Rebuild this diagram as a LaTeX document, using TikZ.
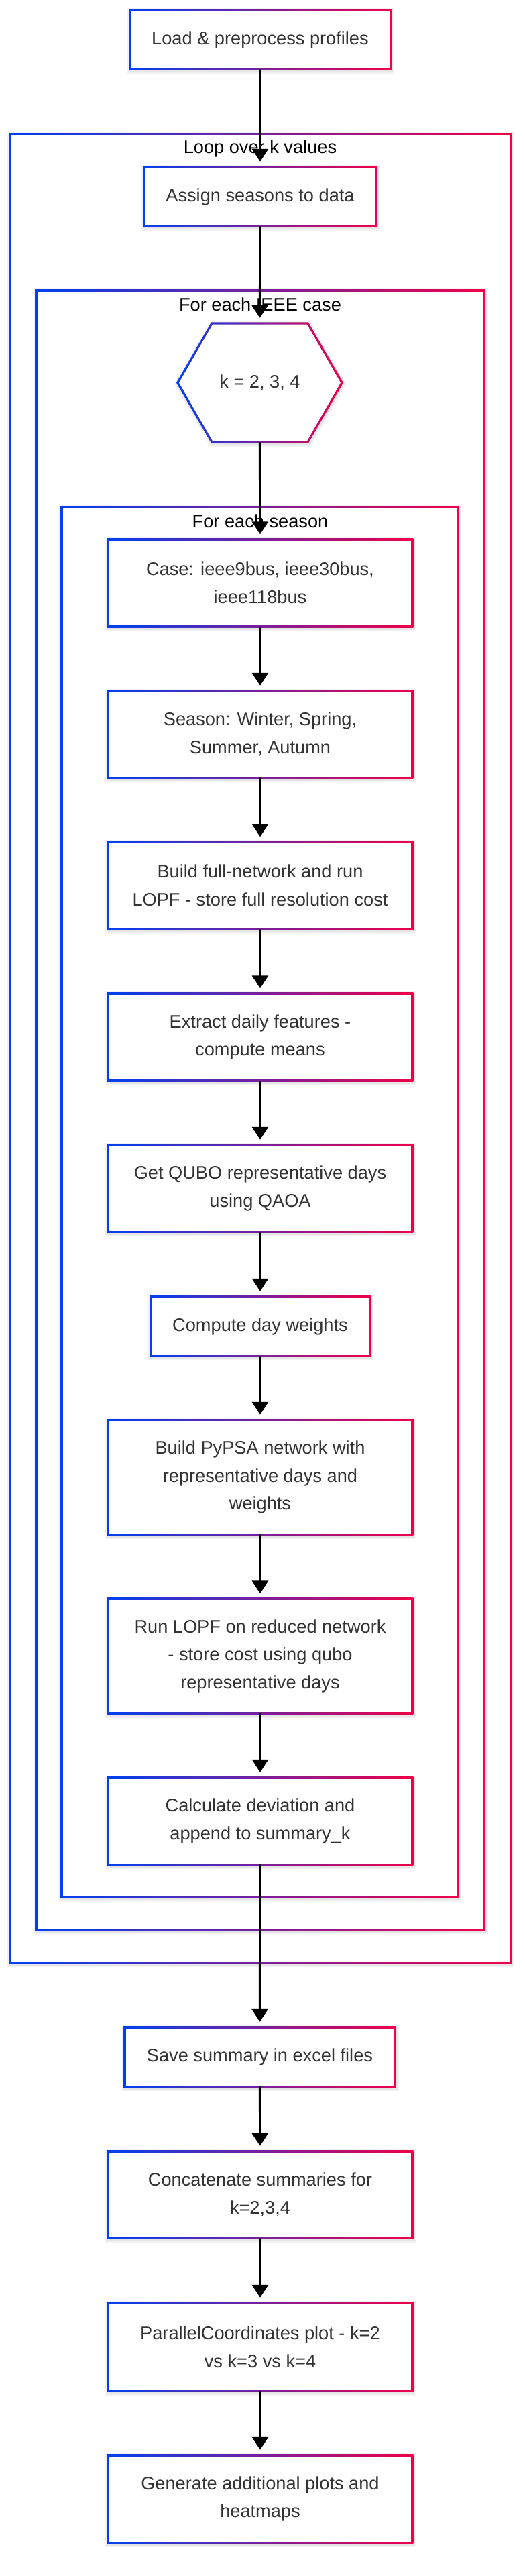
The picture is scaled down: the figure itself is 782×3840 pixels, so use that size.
\documentclass[tikz,border=0pt]{standalone}
\usepackage{fontspec}
\setmainfont{Liberation Sans}
\usetikzlibrary{arrows.meta}
\definecolor{gblue}{RGB}{0,64,240}
\definecolor{gred}{RGB}{240,0,72}
\definecolor{txtgray}{HTML}{333333}
\pgfdeclarelayer{frames}
\pgfsetlayers{frames,main}

\tikzset{
	txt/.style={font=\fontsize{27.2pt}{41.5pt}\selectfont, text=txtgray, align=center, inner sep=0pt},
	proc/.style={txt, rectangle, minimum width=453pt, minimum height=129pt},
	clabel/.style={font=\fontsize{27.2pt}{41.5pt}\selectfont, text=black, inner sep=0pt},
	cluster/.style={rectangle, inner sep=0pt},
	flow/.style={draw=black, line width=3.4pt, -{Triangle[length=19pt,width=24pt]}, shorten >=8pt},
	shadowline/.style={draw=black, opacity=0.05},
}

% gradient frame behind a rectangular node
\newcommand{\gframe}[1]{%
	\begin{pgfonlayer}{frames}
		\foreach \w in {10,6}
			\draw[shadowline, line width=\w pt] ([shift={(1,2)}]#1.north west) rectangle ([shift={(1,2)}]#1.south east);
		\shade[left color=gblue, right color=gred] ([shift={(-1.7,-1.7)}]#1.north west) rectangle ([shift={(1.7,1.7)}]#1.south east);
		\fill[white] ([shift={(1.7,1.7)}]#1.north west) rectangle ([shift={(-1.7,-1.7)}]#1.south east);
	\end{pgfonlayer}}

% gradient hexagon behind a node
\newcommand{\ghex}[1]{%
	\begin{pgfonlayer}{frames}
		\begin{scope}[shift={(#1.center)}]
			\foreach \w in {10,6}
				\draw[shadowline, line width=\w pt] (-121.5,2) -- (-70.5,-86.5) -- (72.5,-86.5) -- (123.5,2) -- (72.5,90.5) -- (-70.5,90.5) -- cycle;
			\shade[left color=gblue, right color=gred] (-124.5,0) -- (-72.4,-90.2) -- (72.4,-90.2) -- (124.5,0) -- (72.4,90.2) -- (-72.4,90.2) -- cycle;
			\fill[white] (-120.5,0) -- (-70.5,-86.8) -- (70.5,-86.8) -- (120.5,0) -- (70.5,86.8) -- (-70.5,86.8) -- cycle;
		\end{scope}
	\end{pgfonlayer}}

\begin{document}
\begin{tikzpicture}[x=1pt, y=-1pt]
		\useasboundingbox (0,0) rectangle (782,3840);
		%
		\node[cluster, minimum width=746pt, minimum height=2725pt] (loopk) at (388,1562.5) {};
		\gframe{loopk}
		\node[cluster, minimum width=668pt, minimum height=2443pt] (ieeecase) at (388,1654.5) {};
		\gframe{ieeecase}
		\node[cluster, minimum width=590pt, minimum height=2072pt] (eachseason) at (387,1792) {};
		\gframe{eachseason}
		\node[clabel] (looplbl) at (388,221) {Loop over k values};
		\node[clabel] (ieeelbl) at (388,454) {For each IEEE case};
		\node[clabel] (seasonlbl) at (388,777) {For each season};
		%
		\node[proc, minimum width=388pt, minimum height=88pt] (load) at (388,59) {Load \& preprocess profiles};
		\gframe{load}
		\node[proc, minimum width=346pt, minimum height=88pt] (assign) at (388,293) {Assign seasons to data};
		\gframe{assign}
		\node[txt, minimum width=245pt, minimum height=177pt] (kval) at (387.5,570.5) {k = 2, 3, 4};
		\ghex{kval}
		%
		\node[proc] (casebox) at (388,869) {Case: ieee9bus, ieee30bus,\\ieee118bus};
		\gframe{casebox}
		\node[proc] (seasonbox) at (388,1094.5) {Season: Winter, Spring,\\Summer, Autumn};
		\gframe{seasonbox}
		\node[proc] (fullnet) at (388,1320) {Build full-network and run\\LOPF - store full resolution cost};
		\gframe{fullnet}
		\node[proc] (features) at (388,1546) {Extract daily features -\\compute means};
		\gframe{features}
		\node[proc] (qubo) at (388,1771.5) {Get QUBO representative days\\using QAOA};
		\gframe{qubo}
		\node[proc, minimum width=326pt, minimum height=88pt] (weights) at (388,1977) {Compute day weights};
		\gframe{weights}
		\node[proc, minimum height=170pt] (pypsa) at (388,2202) {Build PyPSA network with\\representative days and\\weights};
		\gframe{pypsa}
		\node[proc, minimum height=170pt] (reduced) at (388,2468.5) {Run LOPF on reduced network\\- store cost using qubo\\representative days};
		\gframe{reduced}
		\node[proc] (deviation) at (388,2714.5) {Calculate deviation and\\append to summary\_k};
		\gframe{deviation}
		%
		\node[proc, minimum width=403pt, minimum height=88pt] (save) at (387.5,3066) {Save summary in excel files};
		\gframe{save}
		\node[proc] (concat) at (388,3271.5) {Concatenate summaries for\\k=2,3,4};
		\gframe{concat}
		\node[proc, minimum height=131pt] (parallel) at (388,3498.5) {ParallelCoordinates plot - k=2\\vs k=3 vs k=4};
		\gframe{parallel}
		\node[proc, minimum height=130pt] (generate) at (388,3725) {Generate additional plots and\\heatmaps};
		\gframe{generate}
		%
		\draw[flow] (load.south) -- (assign.north);
		\draw[flow] (assign.south) -- (kval.north);
		\draw[flow] (kval.south) -- (casebox.north);
		\draw[flow] (casebox.south) -- (seasonbox.north);
		\draw[flow] (seasonbox.south) -- (fullnet.north);
		\draw[flow] (fullnet.south) -- (features.north);
		\draw[flow] (features.south) -- (qubo.north);
		\draw[flow] (qubo.south) -- (weights.north);
		\draw[flow] (weights.south) -- (pypsa.north);
		\draw[flow] (pypsa.south) -- (reduced.north);
		\draw[flow] (reduced.south) -- (deviation.north);
		\draw[flow] (deviation.south) -- (save.north);
		\draw[flow] (save.south) -- (concat.north);
		\draw[flow] (concat.south) -- (parallel.north);
		\draw[flow] (parallel.south) -- (generate.north);
\end{tikzpicture}
\end{document}
